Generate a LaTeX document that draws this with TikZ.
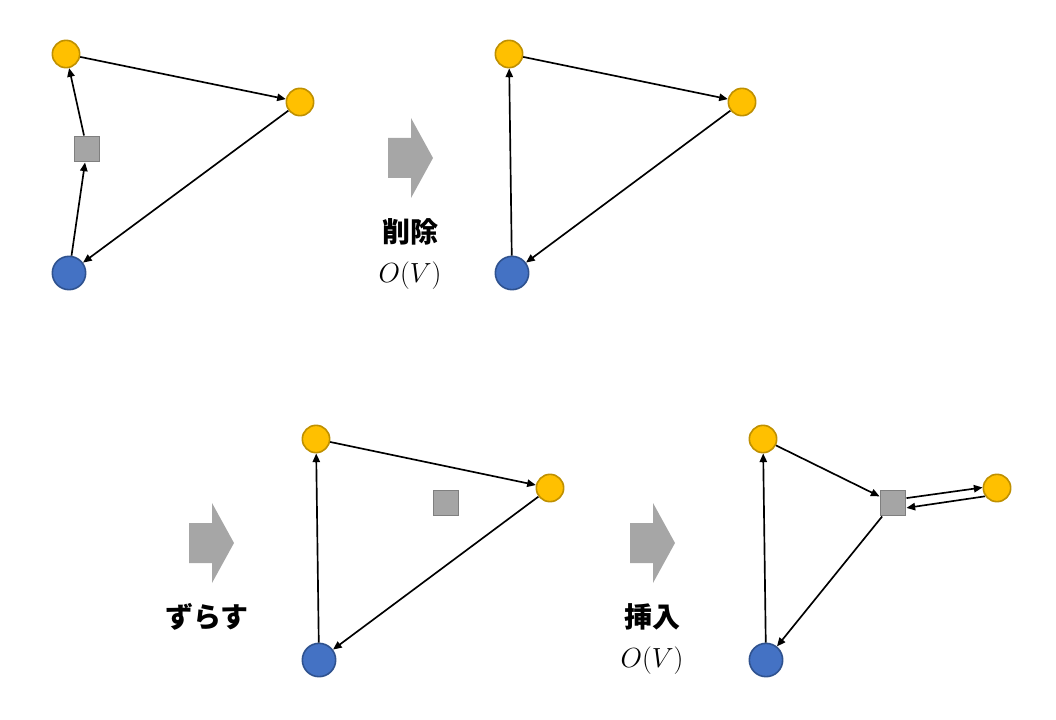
\documentclass[tikz,border=0pt]{standalone}
\usepackage{fontspec}
\newfontfamily\jpfont{Noto Sans CJK JP}
\usepackage{tikz}
\usetikzlibrary{arrows.meta}

\definecolor{gold}{HTML}{FFC000}
\definecolor{golddark}{HTML}{BF9000}
\definecolor{blau}{HTML}{4472C4}
\definecolor{blaudark}{HTML}{2F528F}
\definecolor{grau}{HTML}{A5A5A5}
\definecolor{graudark}{HTML}{7F7F7F}
\definecolor{pfeilgrau}{HTML}{A6A6A6}

\begin{document}
\begin{tikzpicture}[x=0.75pt,y=-0.75pt,
  gelb/.style={circle,fill=gold,draw=golddark,line width=1.2pt,minimum size=20.5pt,inner sep=0pt},
  blaukreis/.style={circle,fill=blau,draw=blaudark,line width=1.2pt,minimum size=25pt,inner sep=0pt},
  kasten/.style={rectangle,fill=grau,draw=graudark,line width=1.2pt,minimum size=19pt,inner sep=0pt},
  kante/.style={-{Triangle[length=6.5pt,width=5.5pt]},line width=1.25pt},
  grosspfeil/.pic={\fill[pfeilgrau] (-22,-20) -- (1,-20) -- (1,-40) -- (23,0) -- (1,40) -- (1,20) -- (-22,20) -- cycle;},
  schrift/.style={font=\fontsize{21}{25}\selectfont\jpfont\bfseries},
  formel/.style={font=\fontsize{21}{25}\selectfont}]
\useasboundingbox (0,0) rectangle (1056,720);
% vorher
\node[gelb] (oben1) at (66,54) {};
\node[gelb] (rechts1) at (300,102) {};
\node[blaukreis] (unten1) at (69,273) {};
\node[kasten] (knoten1) at (87,149) {};
\draw[kante] (oben1) -- (rechts1);
\draw[kante] (rechts1) -- (unten1);
\draw[kante] (unten1) -- (knoten1);
\draw[kante] (knoten1) -- (oben1);
% loeschen
\pic at (410,158) {grosspfeil};
\node[schrift] (loeschen) at (410,232) {削除};
\node[formel] (aufwand1) at (410,276) {$O(V)$};
\node[gelb] (oben2) at (509,54) {};
\node[gelb] (rechts2) at (742,102) {};
\node[blaukreis] (unten2) at (512,273) {};
\draw[kante] (oben2) -- (rechts2);
\draw[kante] (rechts2) -- (unten2);
\draw[kante] (unten2) -- (oben2);
% verschieben
\pic at (211,543) {grosspfeil};
\node[schrift] (verschieben) at (207,617) {ずらす};
\node[gelb] (oben3) at (316,439) {};
\node[gelb] (rechts3) at (550,488) {};
\node[blaukreis] (unten3) at (319,660) {};
\node[kasten] (knoten3) at (446,503) {};
\draw[kante] (oben3) -- (rechts3);
\draw[kante] (rechts3) -- (unten3);
\draw[kante] (unten3) -- (oben3);
% einfuegen
\pic at (652,543) {grosspfeil};
\node[schrift] (einfuegen) at (652,617) {挿入};
\node[formel] (aufwand3) at (652,661) {$O(V)$};
\node[gelb] (oben4) at (763,439) {};
\node[gelb] (rechts4) at (997,488) {};
\node[blaukreis] (unten4) at (766,660) {};
\node[kasten] (knoten4) at (893,503) {};
\draw[kante] (oben4) -- (knoten4);
\draw[kante] (knoten4.20) -- (rechts4.178);
\draw[kante] (rechts4.215) -- (knoten4.-20);
\draw[kante] (knoten4) -- (unten4);
\draw[kante] (unten4) -- (oben4);
\end{tikzpicture}
\end{document}
